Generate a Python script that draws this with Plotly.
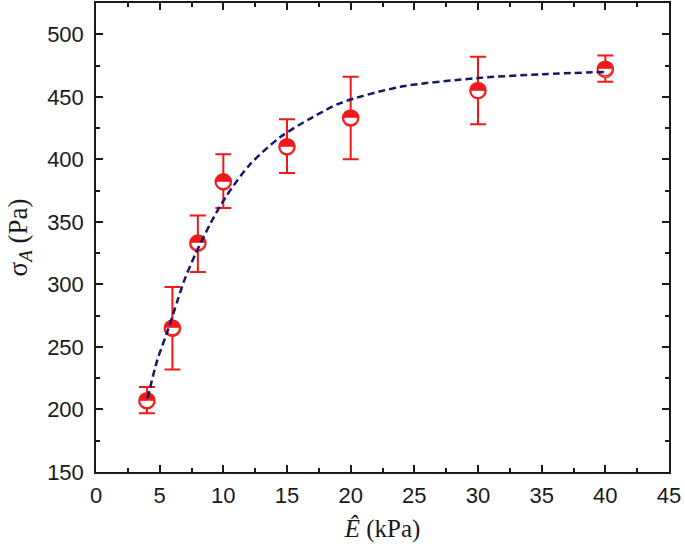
import plotly.graph_objects as go

# Measured data
E_kpa = [4, 6, 8, 10, 15, 20, 30, 40]
sigma_a = [207, 265, 333, 382, 410, 433, 455, 472]
err_plus = [11, 33, 22, 22, 22, 33, 27, 11]
err_minus = [10, 33, 23, 21, 21, 33, 27, 10]

# Fitted curve
fit_x = [4.05, 4.8, 5.7, 6.4, 7.0, 7.8, 9.0, 10.2, 12.1, 14.5, 16.9, 19.2, 23.9, 30, 35, 40.2]
fit_y = [209, 239, 265, 287, 305, 324, 349, 370, 396, 418, 433, 445, 458, 465, 468, 470]

x_ticks = [0, 5, 10, 15, 20, 25, 30, 35, 40, 45]
y_ticks = [150, 200, 250, 300, 350, 400, 450, 500]

RED = "#f01818"
NAVY = "#15186a"
INK = "#1a1a1a"

fig = go.Figure()

fig.add_trace(go.Scatter(
    x=E_kpa, y=sigma_a, mode="markers",
    marker=dict(symbol="circle", size=16, color="white", line=dict(color=RED, width=1.6)),
    error_y=dict(type="data", symmetric=False, array=err_plus, arrayminus=err_minus,
                 color=RED, thickness=2, width=8),
    showlegend=False, hoverinfo="skip",
))

fig.add_trace(go.Scatter(
    x=E_kpa, y=sigma_a, mode="text", text=["◓"] * len(E_kpa),
    textposition="middle center",
    textfont=dict(family="DejaVu Sans", size=20, color=RED),
    showlegend=False, hoverinfo="skip",
))

fig.add_trace(go.Scatter(
    x=fit_x, y=fit_y, mode="lines",
    line=dict(color=NAVY, width=2.5, dash="7px,4px", shape="spline", smoothing=0.8),
    showlegend=False, hoverinfo="skip",
))

axis_common = dict(
    showgrid=False, zeroline=False, showline=True, linecolor=INK, linewidth=1.5,
    mirror="ticks", ticks="inside", ticklen=7, tickwidth=1.5, tickcolor=INK,
    tickfont=dict(family="Liberation Sans, Arial", size=22, color=INK),
    automargin=False, ticklabeloverflow="allow",
)

fig.update_xaxes(
    range=[0, 45], tickvals=x_ticks, ticktext=[str(v) for v in x_ticks],
    minor=dict(ticks="inside", ticklen=4, tickwidth=1.5, tickcolor=INK, dtick=2.5, tick0=0),
    title=dict(text="<i>Ê</i> (kPa)", font=dict(family="Liberation Serif, Times New Roman", size=25, color=INK), standoff=12),
    ticklabelstandoff=3,
    **axis_common,
)
fig.update_yaxes(
    range=[150, 525], tickvals=y_ticks, ticktext=[str(v) for v in y_ticks],
    minor=dict(ticks="inside", ticklen=4, tickwidth=1.5, tickcolor=INK, dtick=25, tick0=0),
    title=dict(text="σ<sub><i>A</i></sub> (Pa)", font=dict(family="Liberation Serif, Times New Roman", size=27, color=INK), standoff=12),
    ticklabelstandoff=6,
    **axis_common,
)

fig.update_layout(
    width=685, height=552,
    margin=dict(l=96, r=16, t=3, b=80),
    paper_bgcolor="white", plot_bgcolor="white",
)

fig.write_html("out.html", config={"displayModeBar": False},
               post_script="document.body.style.margin='0';")
